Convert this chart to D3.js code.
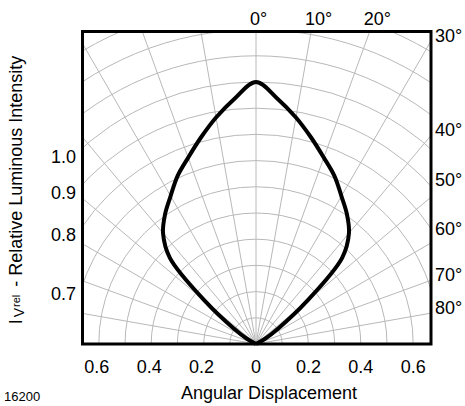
<!DOCTYPE html>
<html>
<head>
<meta charset="utf-8">
<script src="https://cdn.jsdelivr.net/npm/d3@7"></script>
<style>
  body { margin: 0; background: #fff; }
  text { font-family: Arial, "Liberation Sans", Helvetica, sans-serif; fill: #000; }
</style>
</head>
<body>
<svg id="plot"></svg>
<script>
// Data (angle in degrees, relative intensity)
const angleDeg = [0, 5, 10, 15, 20, 25, 30, 35, 40, 45, 50, 55, 60, 65];
const intensity = [1.0, 0.94, 0.878, 0.815, 0.757, 0.708, 0.652, 0.605, 0.552, 0.465, 0.25, 0.105, 0.04, 0];

const rings = [0.1, 0.2, 0.3, 0.4, 0.5, 0.6, 0.7, 0.8, 0.9, 1.0, 1.1, 1.2, 1.3];
const spokes = [-80, -70, -60, -50, -40, -30, -20, -10, 0, 10, 20, 30, 40, 50, 60, 70, 80];
const topAngles = [0, 10, 20];
const sideAngles = [30, 40, 50, 60, 70, 80];
const ringLabels = [1.0, 0.9, 0.8, 0.7];
const xTicks = [-0.6, -0.4, -0.2, 0, 0.2, 0.4, 0.6];

let width = 465;
let height = 406;
let box = { left: 82.5, right: 431, top: 31.5, bottom: 344 };
let cx = 256, cy = 344;
let R = 262;

let svg = d3.select('#plot')
    .attr('width', width)
    .attr('height', height)
    .style('background', '#FFFFFF');

let rScale = d3.scaleLinear().domain([0, 1]).range([0, R]);
let xScale = d3.scaleLinear().domain([-1, 1]).range([cx - R, cx + R]);
const rad = d => d * Math.PI / 180;

svg.append('clipPath').attr('id', 'boxclip')
    .append('rect')
    .attr('x', box.left).attr('y', box.top)
    .attr('width', box.right - box.left).attr('height', box.bottom - box.top);

let grid = svg.append('g').attr('clip-path', 'url(#boxclip)')
    .attr('fill', 'none').attr('stroke', '#b8b8b8').attr('stroke-width', 1);

grid.selectAll('circle')
    .data(rings)
    .enter()
    .append('circle')
    .attr('cx', cx).attr('cy', cy)
    .attr('r', d => rScale(d));

grid.selectAll('line')
    .data(spokes)
    .enter()
    .append('line')
    .attr('x1', cx).attr('y1', cy)
    .attr('x2', d => cx + rScale(2) * Math.sin(rad(d)))
    .attr('y2', d => cy - rScale(2) * Math.cos(rad(d)));

// radiation pattern, mirrored
let pts = [];
for (let i = angleDeg.length - 1; i > 0; i--) pts.push({ a: -angleDeg[i], v: intensity[i] });
for (let i = 0; i < angleDeg.length; i++) pts.push({ a: angleDeg[i], v: intensity[i] });

let curve = d3.lineRadial()
    .angle(d => rad(d.a))
    .radius(d => rScale(d.v))
    .curve(d3.curveCatmullRom.alpha(0.5));

svg.append('path')
    .attr('transform', `translate(${cx},${cy})`)
    .attr('d', curve(pts))
    .attr('fill', 'none')
    .attr('stroke', '#000')
    .attr('stroke-width', 4)
    .attr('stroke-linejoin', 'round');

svg.append('rect')
    .attr('x', box.left).attr('y', box.top)
    .attr('width', box.right - box.left).attr('height', box.bottom - box.top)
    .attr('fill', 'none').attr('stroke', '#000').attr('stroke-width', 3);

// angle labels on top
svg.selectAll('.toplab')
    .data(topAngles)
    .enter()
    .append('text')
    .attr('class', 'toplab')
    .attr('x', d => cx + (cy - box.top) * Math.tan(rad(d)) - 6)
    .attr('y', 25)
    .style('font-size', '18px')
    .text(d => d + '°');

// angle labels on right side
const sideNudge = { 50: -11, 60: -8 };
svg.selectAll('.sidelab')
    .data(sideAngles)
    .enter()
    .append('text')
    .attr('class', 'sidelab')
    .attr('x', box.right + 4)
    .attr('y', d => cy - (box.right - cx) / Math.tan(rad(d)) + (sideNudge[d] || 1))
    .style('font-size', '18px')
    .text(d => d + '°');

// intensity labels on left side
svg.selectAll('.ringlab')
    .data(ringLabels)
    .enter()
    .append('text')
    .attr('class', 'ringlab')
    .attr('x', 76)
    .attr('y', d => cy - Math.sqrt(rScale(d) ** 2 - (cx - box.left) ** 2) + 15)
    .attr('text-anchor', 'end')
    .style('font-size', '18px')
    .text(d => d.toFixed(1));

// bottom ticks
svg.selectAll('.xlab')
    .data(xTicks)
    .enter()
    .append('text')
    .attr('class', 'xlab')
    .attr('x', d => xScale(d) - (d < 0 ? 2 : 0))
    .attr('y', 373)
    .attr('text-anchor', 'middle')
    .style('font-size', '18px')
    .text(d => d === 0 ? '0' : Math.abs(d).toFixed(1));

svg.append('text')
    .attr('x', cx + 13)
    .attr('y', 399)
    .attr('text-anchor', 'middle')
    .style('font-size', '18px')
    .text('Angular Displacement');

svg.append('text')
    .attr('x', 4)
    .attr('y', 401)
    .style('font-size', '13px')
    .text('16200');

let ytitle = svg.append('text')
    .attr('transform', 'translate(22,190) rotate(-90)')
    .attr('text-anchor', 'middle')
    .style('font-size', '18px');
ytitle.append('tspan').text('I');
ytitle.append('tspan').attr('dx', 2).attr('dy', 2).style('font-size', '14px').text('V');
ytitle.append('tspan').attr('dx', 1).attr('dy', -4).style('font-size', '11px').text('rel');
ytitle.append('tspan').attr('dx', 3).attr('dy', 2).text('  - Relative Luminous Intensity');
</script>
</body>
</html>
